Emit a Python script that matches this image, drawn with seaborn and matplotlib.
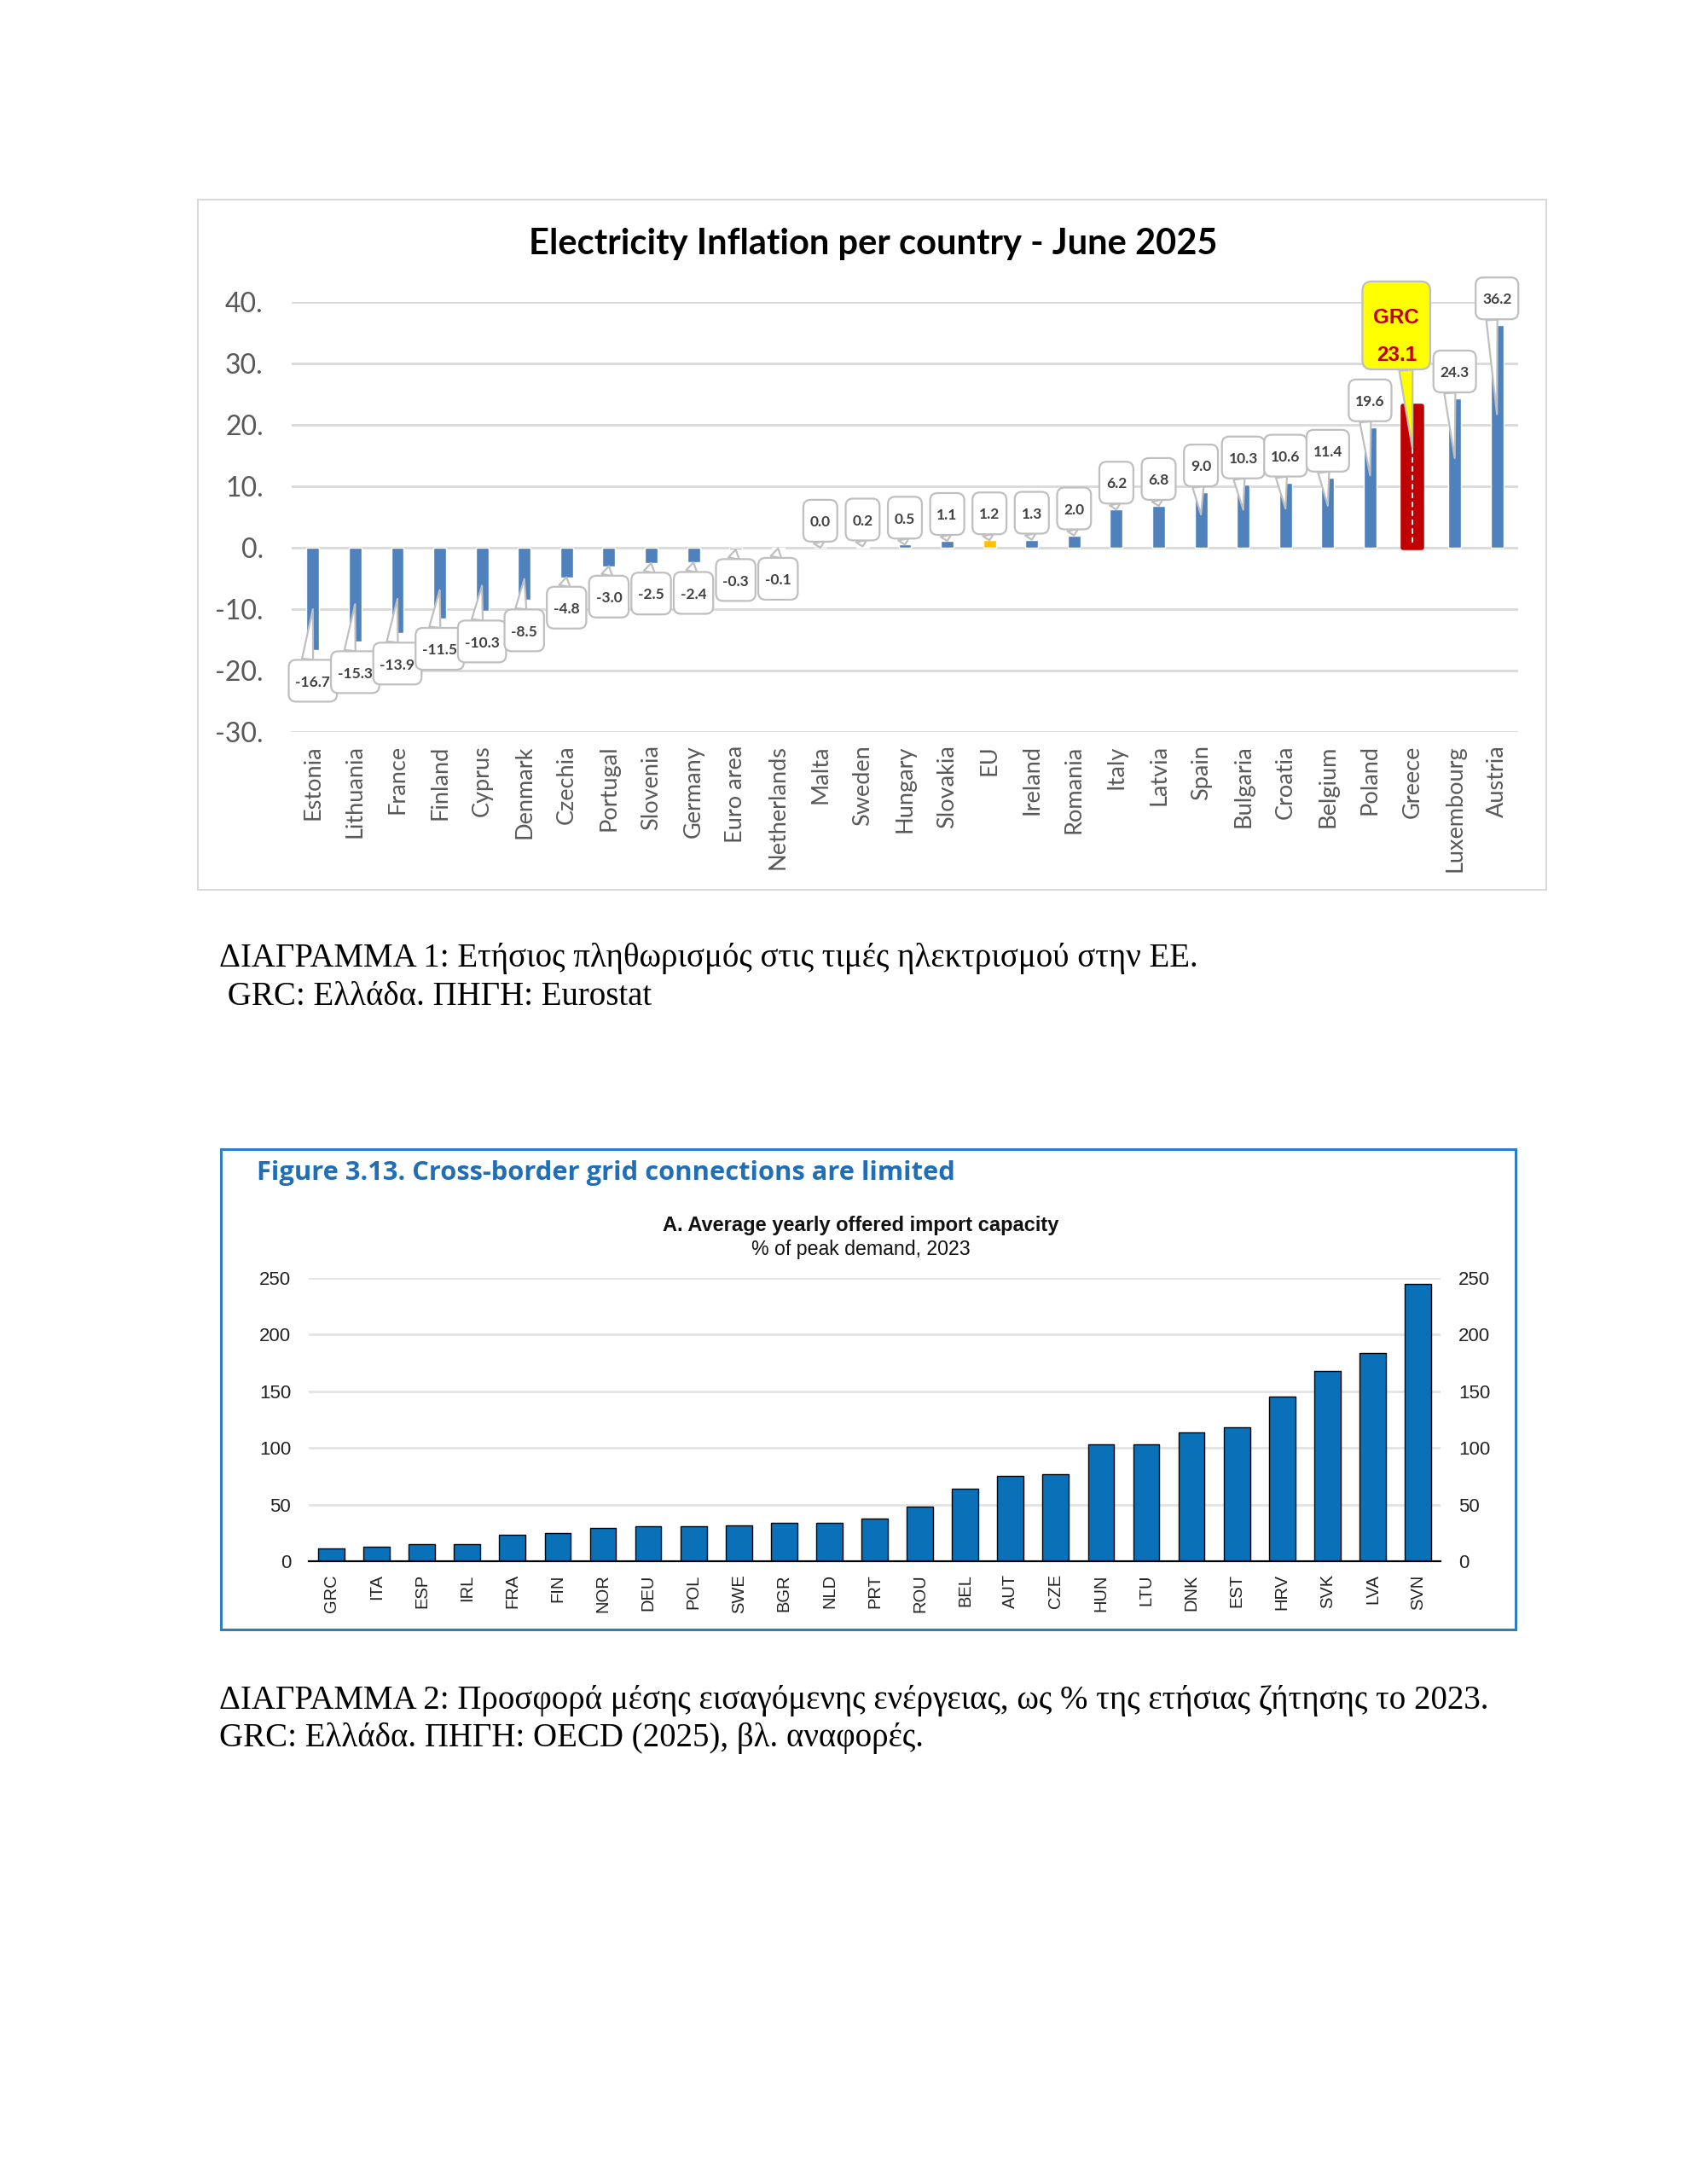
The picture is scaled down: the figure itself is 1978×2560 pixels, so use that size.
import matplotlib
matplotlib.use("Agg")
import matplotlib.pyplot as plt
import matplotlib.patches as mpatches
import matplotlib.ticker as mticker
from matplotlib.patches import BoxStyle
import numpy as np
import pandas as pd
import seaborn as sns

# === Data: chart 1, electricity inflation per country, June 2025 ===
countries = ["Estonia", "Lithuania", "France", "Finland", "Cyprus", "Denmark", "Czechia",
             "Portugal", "Slovenia", "Germany", "Euro area", "Netherlands", "Malta", "Sweden",
             "Hungary", "Slovakia", "EU", "Ireland", "Romania", "Italy", "Latvia", "Spain",
             "Bulgaria", "Croatia", "Belgium", "Poland", "Greece", "Luxembourg", "Austria"]
inflation = [-16.7, -15.3, -13.9, -11.5, -10.3, -8.5, -4.8, -3.0, -2.5, -2.4, -0.3, -0.1,
             0.0, 0.2, 0.5, 1.1, 1.2, 1.3, 2.0, 6.2, 6.8, 9.0, 10.3, 10.6, 11.4, 19.6, 23.1,
             24.3, 36.2]
y1_ticks = [-30, -20, -10, 0, 10, 20, 30, 40]
highlight = "Greece"
highlight_code = "GRC"

# === Data: chart 2, average yearly offered import capacity (% of peak demand, 2023) ===
codes = ["GRC", "ITA", "ESP", "IRL", "FRA", "FIN", "NOR", "DEU", "POL", "SWE", "BGR", "NLD",
         "PRT", "ROU", "BEL", "AUT", "CZE", "HUN", "LTU", "DNK", "EST", "HRV", "SVK", "LVA",
         "SVN"]
import_capacity = [11, 13, 15, 15, 23, 25, 29, 31, 31, 32, 34, 34, 38, 48, 64, 75, 77, 103,
                   103, 114, 118, 145, 168, 184, 245]
y2_ticks = [0, 50, 100, 150, 200, 250]

# === Texts ===
title1 = "Electricity Inflation per country - June 2025"
caption1 = ["ΔΙΑΓΡΑΜΜΑ 1: Ετήσιος πληθωρισμός στις τιμές ηλεκτρισμού στην ΕΕ.",
            " GRC: Ελλάδα. ΠΗΓΗ: Eurostat"]
title2 = "Figure 3.13. Cross-border grid connections are limited"
subtitle2 = "A. Average yearly offered import capacity"
unit2 = "% of peak demand, 2023"
caption2 = ["ΔΙΑΓΡΑΜΜΑ 2: Προσφορά μέσης εισαγόμενης ενέργειας, ως % της ετήσιας ζήτησης το 2023.",
            "GRC: Ελλάδα. ΠΗΓΗ: OECD (2025), βλ. αναφορές."]

# === Layout helpers (pixel boxes on a 1978x2560 page) ===
W, H = 1978, 2560


def px_box(x0, y0, x1, y1):
    return [x0 / W, 1 - y1 / H, (x1 - x0) / W, (y1 - y0) / H]


def page_rect(fig, x0, y0, x1, y1, color, lw):
    fig.add_artist(mpatches.Rectangle((x0 / W, 1 - y1 / H), (x1 - x0) / W, (y1 - y0) / H,
                                      transform=fig.transFigure, fill=False, ec=color, lw=lw))


def rounded_box(pad_x, pad_bottom, pad_top, radius):
    # round box with separate horizontal / vertical padding (Excel-like callout)
    def draw(x0, y0, width, height, mutation_size):
        m = mutation_size
        return BoxStyle.Round(pad=0, rounding_size=radius)(
            x0 - pad_x * m, y0 - pad_bottom * m,
            width + 2 * pad_x * m, height + (pad_bottom + pad_top) * m, m)
    return draw


sns.set_style("white")
plt.rcParams["font.family"] = ["Lato", "DejaVu Sans"]
SERIF = ["Liberation Serif", "DejaVu Serif"]
ARIAL = ["Liberation Sans", "DejaVu Sans"]

fig = plt.figure(figsize=(W / 100, H / 100), dpi=100)

# ---------------- Chart 1 ----------------
page_rect(fig, 232, 234, 1813, 1043, "#D9D9D9", 1.5)
fig.text(1024 / W, 1 - 286 / H, title1, ha="center", va="center", fontsize=30,
         fontweight="bold", color="black")

ax1 = fig.add_axes(px_box(342, 354, 1780, 858))
df1 = pd.DataFrame({"country": countries, "inflation": inflation})
palette1 = {c: "#4F81BD" for c in countries}
palette1["EU"] = "#FFC000"
palette1["Euro area"] = "#F04B4B"
palette1[highlight] = "#C00000"
sns.barplot(data=df1, x="country", y="inflation", hue="country", palette=palette1,
            width=0.3, saturation=1, legend=False, ax=ax1)

gi = countries.index(highlight)
for p in ax1.patches:
    if round(p.get_x() + p.get_width() / 2) == gi:
        p.set_x(gi - 0.22)
        p.set_width(0.44)
        p.set_edgecolor("#C00000")
        p.set_linewidth(4)
        p.set_joinstyle("round")
ax1.vlines(gi, 0.8, inflation[gi] * 0.7, colors="white", linestyles=(0, (3, 2)), lw=1.5,
           zorder=3)

ax1.set_xlim(-0.5, len(countries) - 0.5)
ax1.set_ylim(y1_ticks[0], y1_ticks[-1])
ax1.set_yticks(y1_ticks)
ax1.yaxis.set_major_formatter(mticker.FuncFormatter(lambda v, _: f"{v:.0f}."))
ax1.yaxis.grid(True, color="#D9D9D9", lw=2)
ax1.set_axisbelow(True)
sns.despine(ax=ax1, left=True, bottom=True)
ax1.tick_params(axis="y", length=0, pad=24, labelsize=23, labelcolor="#595959")
ax1.tick_params(axis="x", length=0, pad=11, labelsize=19.5, labelcolor="#595959",
                labelrotation=90)
ax1.set_xlabel("")
ax1.set_ylabel("")

# callout labels: box under negative bars, over positive ones, pointer to the bar
callout = rounded_box(0.45, 0.85, 1.05, 0.5)
for i, v in enumerate(inflation):
    if countries[i] == highlight:
        continue
    label_y = v - 5.2 if v < 0 else v + 4.15
    tip_y = v * 0.6 if abs(v) > 8 else v
    ax1.annotate(f"{v:.1f}", xy=(i, tip_y), xytext=(i, label_y), ha="center", va="center",
                 fontsize=12.5, fontweight="bold", color="#404040", zorder=5,
                 bbox=dict(boxstyle=callout, fc="white", ec="#BFBFBF", lw=1.6),
                 arrowprops=dict(arrowstyle="wedge,tail_width=0.75", fc="white",
                                 ec="#BFBFBF", lw=1.6, shrinkA=0, shrinkB=0,
                                 relpos=(0.3, 1.0 if v < 0 else 0.0)))

ax1.annotate(f"{highlight_code}\n{inflation[gi]:.1f}", xy=(gi, inflation[gi] * 0.7),
             xytext=(gi - 0.38, 34.4), ha="center", va="center", fontsize=17.5,
             fontweight="bold", family=ARIAL, color="#C00000", linespacing=2.15, zorder=6,
             bbox=dict(boxstyle=rounded_box(0.53, 0.22, 1.28, 0.45), fc="#FFFF00",
                       ec="#BFBFBF", lw=1.6),
             arrowprops=dict(arrowstyle="wedge,tail_width=0.65", fc="#FFFF00", ec="#BFBFBF",
                             lw=1.6, shrinkA=0, shrinkB=0, relpos=(0.7, 0.0)))

for k, line in enumerate(caption1):
    fig.text(257 / W, 1 - (1124 + 45 * k) / H, line, ha="left", va="center",
             fontsize=28, family=SERIF, color="black")

# ---------------- Chart 2 ----------------
page_rect(fig, 259, 1347, 1777, 1910, "#2C7FC3", 2.2)
fig.text(301 / W, 1 - 1375 / H, title2, ha="left", va="center", fontsize=22.2,
         fontweight="bold", color="#1F6EB7", family=["Open Sans", "DejaVu Sans"])
fig.text(1009 / W, 1 - 1436 / H, subtitle2, ha="center", va="center", fontsize=17,
         fontweight="bold", family=ARIAL, color="#111111")
fig.text(1009 / W, 1 - 1465 / H, unit2, ha="center", va="center", fontsize=16.7,
         family=ARIAL, color="#111111")

ax2 = fig.add_axes(px_box(362, 1498, 1689, 1830))
sns.barplot(x=codes, y=import_capacity, color="#0A70B8", saturation=1, width=0.58,
            edgecolor="black", linewidth=1, ax=ax2)
ax2.set_xlim(-0.5, len(codes) - 0.5)
ax2.set_ylim(y2_ticks[0], y2_ticks[-1])
ax2.set_yticks(y2_ticks)
ax2.yaxis.grid(True, color="#E3E3E3", lw=2)
ax2.set_axisbelow(True)
sns.despine(ax=ax2, left=True)
ax2.spines["bottom"].set_linewidth(1.6)
ax2.spines["bottom"].set_color("black")
ax2.set_xticks(np.arange(-0.5, len(codes)), minor=True)
ax2.tick_params(axis="x", which="minor", direction="in", length=4.5, width=1.5, color="black")
ax2.tick_params(axis="x", which="major", length=0, pad=11, labelsize=14.5, labelrotation=90,
                labelcolor="#222222")
ax2.tick_params(axis="y", length=0, pad=15, labelsize=16, labelcolor="#222222",
                labelleft=True, labelright=True)
for lab in ax2.get_xticklabels() + ax2.get_yticklabels():
    lab.set_family(ARIAL)
ax2.set_xlabel("")
ax2.set_ylabel("")

for k, line in enumerate(caption2):
    fig.text(257 / W, 1 - (1993 + 44 * k) / H, line, ha="left", va="center",
             fontsize=28, family=SERIF, color="black")

fig.savefig("out.png", dpi=100, facecolor="white")
